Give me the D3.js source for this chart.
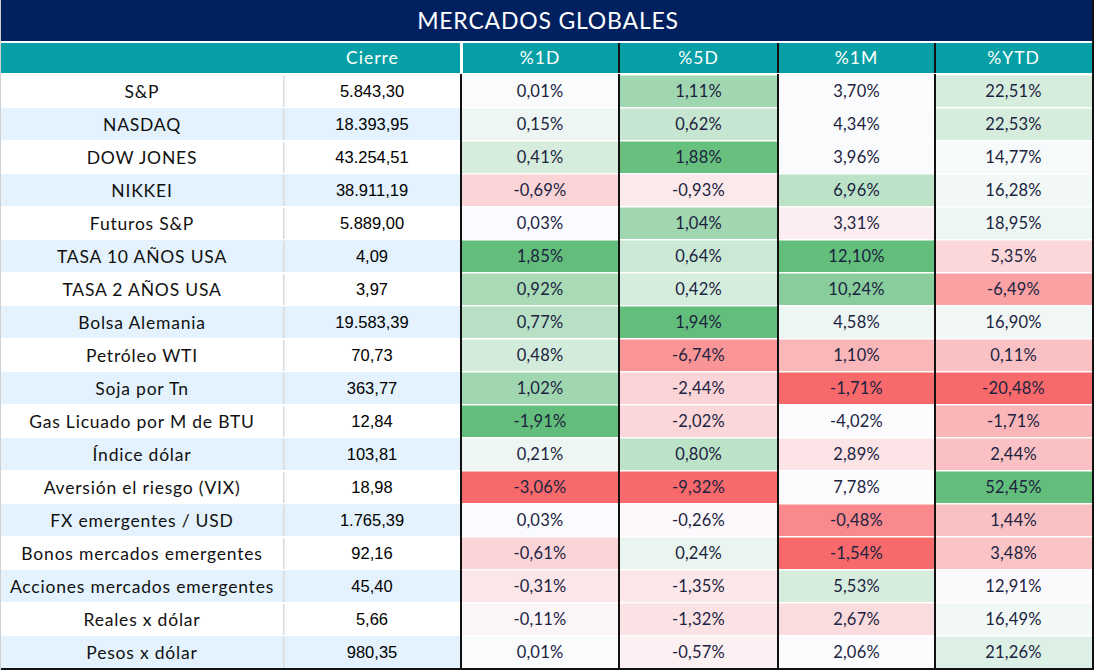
<!DOCTYPE html>
<html><head><meta charset="utf-8">
<script src="https://cdn.jsdelivr.net/npm/d3@7"></script>
<style>html,body{margin:0;padding:0;background:#fff;}svg{display:block;}</style>
</head><body>
<svg id="c" width="1094" height="670"></svg>
<script>
const title = "MERCADOS GLOBALES";
const headers = ["", "Cierre", "%1D", "%5D", "%1M", "%YTD"];
const names = ["S&P","NASDAQ","DOW JONES","NIKKEI","Futuros S&P","TASA 10 AÑOS USA","TASA 2 AÑOS USA","Bolsa Alemania","Petróleo WTI","Soja por Tn","Gas Licuado por M de BTU","Índice dólar","Aversión el riesgo (VIX)","FX emergentes / USD","Bonos mercados emergentes","Acciones mercados emergentes","Reales x dólar","Pesos x dólar"];
const cierre = [5843.30,18393.95,43254.51,38911.19,5889.00,4.09,3.97,19583.39,70.73,363.77,12.84,103.81,18.98,1765.39,92.16,45.40,5.66,980.35];
const pct1D = [0.01,0.15,0.41,-0.69,0.03,1.85,0.92,0.77,0.48,1.02,-1.91,0.21,-3.06,0.03,-0.61,-0.31,-0.11,0.01];
const pct5D = [1.11,0.62,1.88,-0.93,1.04,0.64,0.42,1.94,-6.74,-2.44,-2.02,0.80,-9.32,-0.26,0.24,-1.35,-1.32,-0.57];
const pct1M = [3.70,4.34,3.96,6.96,3.31,12.10,10.24,4.58,1.10,-1.71,-4.02,2.89,7.78,-0.48,-1.54,5.53,2.67,2.06];
const pctYTD = [22.51,22.53,14.77,16.28,18.95,5.35,-6.49,16.90,0.11,-20.48,-1.71,2.44,52.45,1.44,3.48,12.91,16.49,21.26];
// colour-scale intensity (-1 red .. 0 white .. 1 green)
const heat1D = [0.02,0.1,0.25,-0.27,0.01,1,0.55,0.45,0.27,0.6,1,0.1,-1,0.01,-0.27,-0.15,-0.05,0.02];
const heat5D = [0.6,0.35,0.97,-0.13,0.6,0.33,0.25,1,-0.7,-0.27,-0.25,0.42,-1,-0.03,0.12,-0.15,-0.18,-0.08];
const heat1M = [0.0,0.02,0.02,0.42,-0.1,1,0.76,0.1,-0.47,-1,0,-0.17,0,-0.78,-1,0.25,-0.22,0.0];
const heatYTD = [0.25,0.25,0.04,0.07,0.1,-0.25,-0.62,0.08,-0.4,-1,-0.48,-0.4,1,-0.4,-0.38,-0.02,0.07,0.2];

const W = 1094, H = 670;
const svg = d3.select("#c");
const loc = d3.formatLocale({decimal: ",", thousands: ".", grouping: [3], currency: ["", ""], minus: "-"});
const fNum = loc.format(",.2f");
const fPct = v => loc.format(",.2f")(v) + "%";
const color = d3.scaleLinear().domain([-1, 0, 1]).range(["#F8696B", "#FCFCFF", "#63BE7B"]).clamp(true);

const colEdges = [0, 284, 461, 619, 778, 935, 1092];
const x0 = i => colEdges[i], x1 = i => colEdges[i + 1];
const y = d3.scaleBand().domain(d3.range(names.length)).range([74, 668]).paddingInner(0);
const bh = y.bandwidth();

const nameFont = "Lato, 'Noto Sans', sans-serif";
const numFont = "'Liberation Sans', Arial, sans-serif";

svg.append("rect").attr("width", W).attr("height", H).attr("fill", "#fff");
// title
svg.append("rect").attr("x", 0).attr("y", 0).attr("width", 1092).attr("height", 41).attr("fill", "#002060");
svg.append("text").attr("x", 548).attr("y", 21).attr("dy", "0.36em").attr("text-anchor", "middle")
  .attr("fill", "#fff").attr("font-family", nameFont).attr("font-size", 23).attr("letter-spacing", 0.8).text(title);
// header
svg.append("rect").attr("x", 0).attr("y", 43).attr("width", 1092).attr("height", 30).attr("fill", "#069FA5");
svg.append("rect").attr("x", 460).attr("y", 43).attr("width", 3).attr("height", 30).attr("fill", "#fff");
[619, 778, 935].forEach(xx => svg.append("rect").attr("x", xx - 1).attr("y", 43).attr("width", 2).attr("height", 30).attr("fill", "#111"));
headers.forEach((h, i) => {
  if (!h) return;
  svg.append("text").attr("x", (x0(i) + x1(i)) / 2).attr("y", 58).attr("dy", "0.36em")
    .attr("text-anchor", "middle").attr("fill", "#fff").attr("font-family", nameFont).attr("font-size", 17.5)
    .attr("letter-spacing", 1).text(h);
});

// rows
const pctCols = [[pct1D, heat1D], [pct5D, heat5D], [pct1M, heat1M], [pctYTD, heatYTD]];
const rows = svg.append("g").selectAll("g").data(names).join("g")
  .attr("transform", (d, i) => `translate(0,${y(i)})`);

rows.append("rect").attr("x", 0).attr("y", 1).attr("width", 461).attr("height", bh - 1)
  .attr("fill", (d, i) => i % 2 ? "#E3F2FD" : "#FFFFFF");
rows.append("rect").attr("x", 283).attr("y", 2).attr("width", 1.5).attr("height", bh - 2).attr("fill", "#D9D9D9");
rows.append("text").attr("x", 142).attr("y", bh / 2 + 1).attr("dy", "0.36em").attr("text-anchor", "middle")
  .attr("fill", "#111").attr("font-family", nameFont).attr("font-size", 17.5).attr("letter-spacing", 0.8).text(d => d);
rows.append("text").attr("x", 372).attr("y", bh / 2 + 1).attr("dy", "0.36em").attr("text-anchor", "middle")
  .attr("fill", "#000").attr("font-family", numFont).attr("font-size", 16.5).text((d, i) => fNum(cierre[i]));

pctCols.forEach(([vals, heat], k) => {
  const c = k + 2;
  rows.append("rect").attr("x", x0(c) + 1).attr("y", 1.5).attr("width", x1(c) - x0(c) - 1).attr("height", bh - 1.5)
    .attr("fill", (d, i) => color(heat[i]));
  rows.append("text").attr("x", (x0(c) + x1(c)) / 2).attr("y", bh / 2 + 1).attr("dy", "0.36em").attr("text-anchor", "middle")
    .attr("fill", "#1B2340").attr("font-family", nameFont).attr("font-size", 16.5).attr("letter-spacing", 0.2).text((d, i) => fPct(vals[i]));
});

// vertical black separators in body
[461, 619, 778, 935].forEach(xx => svg.append("rect").attr("x", xx - 1).attr("y", 74).attr("width", 2).attr("height", 594).attr("fill", "#111"));
// frame
svg.append("rect").attr("x", 0).attr("y", 668).attr("width", 1094).attr("height", 2).attr("fill", "#111");
svg.append("rect").attr("x", 1092).attr("y", 0).attr("width", 2).attr("height", 670).attr("fill", "#111");
svg.append("rect").attr("x", 0).attr("y", 0).attr("width", 1).attr("height", 670).attr("fill", "#D0D0D0");
</script>
</body></html>
